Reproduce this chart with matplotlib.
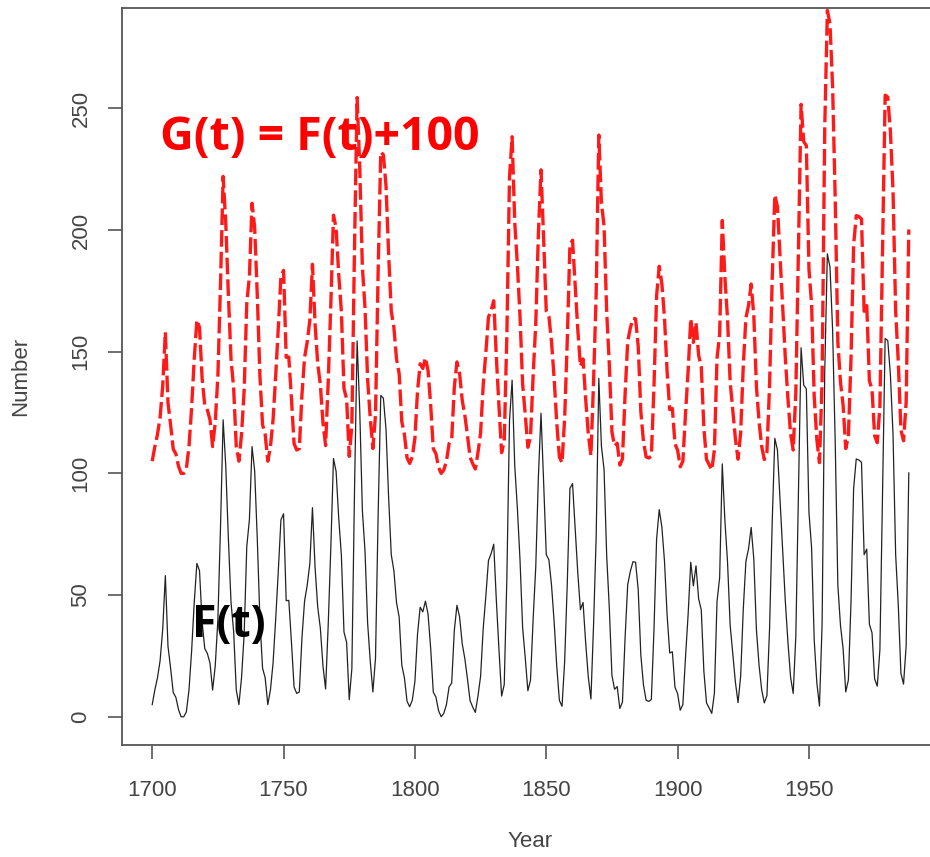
import matplotlib
matplotlib.use('Agg')
import matplotlib.pyplot as plt
import numpy as np

# yearly sunspot numbers 1700-1988
years = list(range(1700, 1989))
F = [5.0, 11.0, 16.0, 23.0, 36.0, 58.0, 29.0, 20.0, 10.0, 8.0,
     3.0, 0.0, 0.0, 2.0, 11.0, 27.0, 47.0, 63.0, 60.0, 39.0,
     28.0, 26.0, 22.0, 11.0, 21.0, 40.0, 78.0, 122.0, 103.0, 73.0,
     47.0, 35.0, 11.0, 5.0, 16.0, 34.0, 70.0, 81.0, 111.0, 101.0,
     73.0, 40.0, 20.0, 16.0, 5.0, 11.0, 22.0, 40.0, 60.0, 80.9,
     83.4, 47.7, 47.8, 30.7, 12.2, 9.6, 10.2, 32.4, 47.6, 54.0,
     62.9, 85.9, 61.2, 45.1, 36.4, 20.9, 11.4, 37.8, 69.8, 106.1,
     100.8, 81.6, 66.5, 34.8, 30.6, 7.0, 19.8, 92.5, 154.4, 125.9,
     84.8, 68.1, 38.5, 22.8, 10.2, 24.1, 82.9, 132.0, 130.9, 118.1,
     89.9, 66.6, 60.0, 46.9, 41.0, 21.3, 16.0, 6.4, 4.1, 6.8,
     14.5, 34.0, 45.0, 43.1, 47.5, 42.2, 28.1, 10.1, 8.1, 2.5,
     0.0, 1.4, 5.0, 12.2, 13.9, 35.4, 45.8, 41.1, 30.1, 23.9,
     15.6, 6.6, 4.0, 1.8, 8.5, 16.6, 36.3, 49.6, 64.2, 67.0,
     70.9, 47.8, 27.5, 8.5, 13.2, 56.9, 121.5, 138.3, 103.2, 85.7,
     64.6, 36.7, 24.2, 10.7, 15.0, 40.1, 61.5, 98.5, 124.7, 96.3,
     66.6, 64.5, 54.1, 39.0, 20.6, 6.7, 4.3, 22.7, 54.8, 93.8,
     95.8, 77.2, 59.1, 44.0, 47.0, 30.5, 16.3, 7.3, 37.6, 74.0,
     139.0, 111.2, 101.6, 66.2, 44.7, 17.0, 11.3, 12.4, 3.4, 6.0,
     32.3, 54.3, 59.7, 63.7, 63.5, 52.2, 25.4, 13.1, 6.8, 6.3,
     7.1, 35.6, 73.0, 85.1, 78.0, 64.0, 41.8, 26.2, 26.7, 12.1,
     9.5, 2.7, 5.0, 24.4, 42.0, 63.5, 53.8, 62.0, 48.5, 43.9,
     18.6, 5.7, 3.6, 1.4, 9.6, 47.4, 57.1, 103.9, 80.6, 63.6,
     37.6, 26.1, 14.2, 5.8, 16.7, 44.3, 63.9, 69.0, 77.8, 64.9,
     35.7, 21.2, 11.1, 5.7, 8.7, 36.1, 79.7, 114.4, 109.6, 88.8,
     67.8, 47.5, 30.6, 16.3, 9.6, 33.2, 92.6, 151.6, 136.3, 134.7,
     83.9, 69.4, 31.5, 13.9, 4.4, 38.0, 141.7, 190.2, 184.8, 159.0,
     112.3, 53.9, 37.5, 27.9, 10.2, 15.1, 47.0, 93.8, 105.9, 105.5,
     104.5, 66.6, 68.9, 38.0, 34.5, 15.5, 12.6, 27.5, 92.5, 155.4,
     154.6, 140.5, 115.9, 66.6, 45.9, 17.9, 13.4, 29.2, 100.2]
shift = 100
G = [v + shift for v in F]

x_ticks = [1700, 1750, 1800, 1850, 1900, 1950]
y_ticks = [0, 50, 100, 150, 200, 250]

W, H = 930, 857
fig = plt.figure(figsize=(W / 100, H / 100), dpi=100)
# axes box runs past the right edge (the original picture is cropped)
ax = fig.add_axes([122 / W, (H - 745) / H, 817 / W, 737 / H])

ax.plot(years, F, color='#222222', linewidth=0.9)
ax.plot(years, G, color='#ff1a1a', linewidth=2.4, linestyle=(0, (5.0, 1.5)),
        dash_capstyle='butt')

ax.set_xlim(1688.5, 1999.5)
ax.set_ylim(-11.6, 291.2)
ax.set_xticks(x_ticks)
ax.set_yticks(y_ticks)

for s in ax.spines.values():
    s.set_color('#555555')
    s.set_linewidth(1.3)

lab_font = dict(family='Liberation Sans', size=16, color='#444444')
ax.tick_params(axis='both', direction='out', length=10, width=1.2, color='#555555')
ax.tick_params(axis='x', pad=15)
ax.tick_params(axis='y', pad=12)
ax.set_xticklabels([str(t) for t in x_ticks], **lab_font)
ax.set_yticklabels([str(t) for t in y_ticks], rotation=90, va='center', **lab_font)

ax.set_xlabel('Year', labelpad=22, **lab_font)
ax.set_ylabel('Number', labelpad=28, **lab_font)

fig.text(160 / W, 1 - 137 / H, 'G(t) = F(t)+100', color='#ff0000',
         family='Open Sans', weight='bold', size=33.5, va='center', ha='left')
fig.text(192 / W, 1 - 626 / H, 'F(t)', color='black',
         family='Open Sans', weight='bold', size=32, va='center', ha='left')

fig.savefig('out.png', dpi=100)
